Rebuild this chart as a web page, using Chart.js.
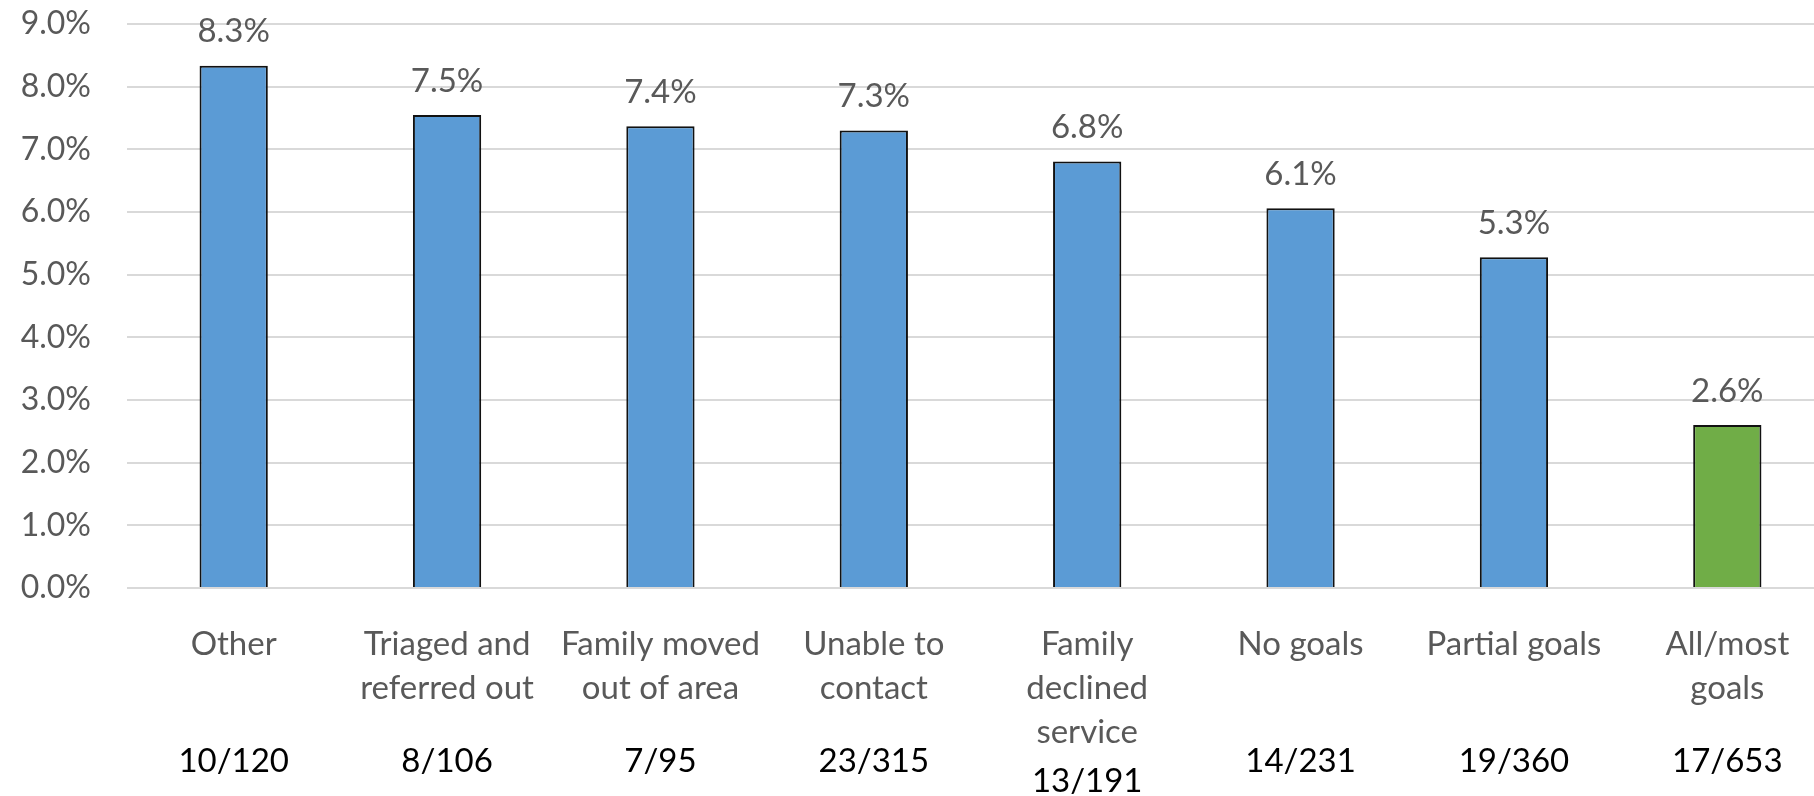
<!DOCTYPE html>
<html>
<head>
<meta charset="utf-8">
<script src="https://cdn.jsdelivr.net/npm/chart.js@4"></script>
<style>
  html, body { margin: 0; padding: 0; background: #fff; overflow: hidden; }
  #wrap { width: 1834px; height: 796px; }
</style>
</head>
<body>
<div id="wrap"><canvas id="chart"></canvas></div>
<script>
const categories = [
  "Other",
  ["Triaged and", "referred out"],
  ["Family moved", "out of area"],
  ["Unable to", "contact"],
  ["Family", "declined", "service"],
  "No goals",
  "Partial goals",
  ["All/most", "goals"],
];
const rates = [8.333, 7.547, 7.368, 7.302, 6.806, 6.061, 5.278, 2.603];
const counts = ["10/120", "8/106", "7/95", "23/315", "13/191", "14/231", "19/360", "17/653"];
const barColors = ["#5b9bd5", "#5b9bd5", "#5b9bd5", "#5b9bd5", "#5b9bd5", "#5b9bd5", "#5b9bd5", "#70ad47"];

const FONT = "Lato, 'DejaVu Sans', sans-serif";
const GREY = "#595959";

// percentage above each bar
const valueLabels = {
  id: "valueLabels",
  afterDatasetsDraw(chart) {
    const { ctx } = chart;
    const meta = chart.getDatasetMeta(0);
    ctx.save();
    ctx.font = `33px ${FONT}`;
    ctx.fillStyle = GREY;
    ctx.textAlign = "center";
    ctx.textBaseline = "middle";
    meta.data.forEach((bar, i) => {
      ctx.fillText(rates[i].toFixed(1) + "%", bar.x, bar.y - 34);
    });
    ctx.restore();
  },
};

// n / total line under the category names
const countLabels = {
  id: "countLabels",
  afterDraw(chart) {
    const { ctx } = chart;
    const x = chart.scales.x;
    ctx.save();
    ctx.font = `33px ${FONT}`;
    ctx.fillStyle = "#000";
    ctx.textAlign = "center";
    ctx.textBaseline = "middle";
    counts.forEach((txt, i) => {
      const lines = Array.isArray(categories[i]) ? categories[i].length : 1;
      const extra = lines > 2 ? 20 : 0;
      ctx.fillText(txt, x.getPixelForValue(i), x.top + 173 + extra);
    });
    ctx.restore();
  },
};

new Chart(document.getElementById("chart"), {
  type: "bar",
  data: {
    labels: categories,
    datasets: [
      {
        data: rates,
        backgroundColor: barColors,
        borderColor: "#111",
        borderWidth: 2,
        barPercentage: 0.32,
        categoryPercentage: 1,
      },
    ],
  },
  options: {
    responsive: true,
    maintainAspectRatio: false,
    animation: false,
    layout: { padding: { top: 24, right: 0, bottom: 0, left: 0 } },
    plugins: {
      legend: { display: false },
      tooltip: { enabled: false },
    },
    scales: {
      x: {
        grid: { display: false },
        border: { display: false },
        afterFit(scale) {
          scale.height = 208;
          scale.paddingLeft = 0;
          scale.paddingRight = 0;
        },
        ticks: {
          autoSkip: false,
          maxRotation: 0,
          padding: 26,
          color: GREY,
          font: { family: FONT, size: 33, lineHeight: "44px" },
        },
      },
      y: {
        min: 0,
        max: 9,
        border: { display: false },
        grid: { color: "#d9d9d9", lineWidth: 2, drawTicks: false },
        afterFit(scale) {
          scale.width = 127;
          scale.paddingTop = 0;
          scale.paddingBottom = 0;
        },
        ticks: {
          stepSize: 1,
          padding: 36,
          color: GREY,
          font: { family: FONT, size: 32 },
          callback: (v) => v.toFixed(1) + "%",
        },
      },
    },
  },
  plugins: [valueLabels, countLabels],
});
</script>
</body>
</html>
